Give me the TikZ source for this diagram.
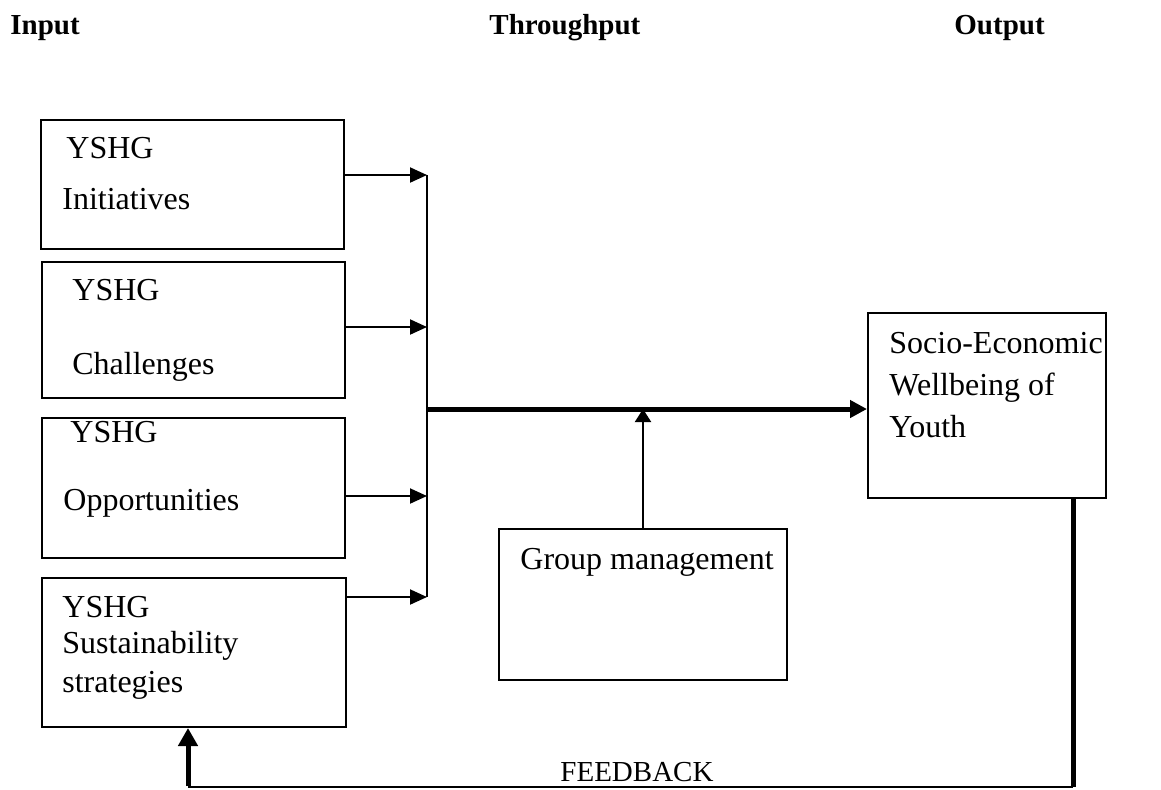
\documentclass[tikz,border=0pt]{standalone}
\usepackage{fontspec}
\setmainfont{Liberation Serif}
\usetikzlibrary{arrows.meta}
\begin{document}
\begin{tikzpicture}[x=0.5pt,y=-0.5pt,
  box/.style={draw,line width=1pt,rectangle,inner sep=0pt},
  txt/.style={anchor=base west,inner sep=0pt,font=\fontsize{16}{19}\selectfont},
  head/.style={anchor=base west,inner sep=0pt,font=\fontsize{14.5}{17}\selectfont\bfseries},
  thin/.style={line width=1pt},
  thinarrow/.style={line width=1pt,-{Triangle[length=8.5pt,width=7.5pt]}},
  thickarrow/.style={line width=2.5pt,-{Triangle[length=8.5pt,width=8.5pt]}},
  thickline/.style={line width=2.5pt}]
\useasboundingbox (0,0) rectangle (1161,789);
% headers
\node[head] (hin) at (10,34) {Input};
\node[head] (hth) at (489,34) {Throughput};
\node[head] (hout) at (954,34) {Output};
% input boxes
\node[box,minimum width=151.5pt,minimum height=64.5pt] (b1) at (192.5,184.5) {};
\node[box,minimum width=151.5pt,minimum height=68pt] (b2) at (193.5,330) {};
\node[box,minimum width=151.5pt,minimum height=70pt] (b3) at (193.5,488) {};
\node[box,minimum width=152pt,minimum height=74.5pt] (b4) at (194,652.5) {};
\node[txt] (t1a) at (66,158) {YSHG};
\node[txt] (t1b) at (62,209) {Initiatives};
\node[txt] (t2a) at (72,300) {YSHG};
\node[txt] (t2b) at (72,374) {Challenges};
\node[txt] (t3a) at (70,442) {YSHG};
\node[txt] (t3b) at (63,510) {Opportunities};
\node[txt] (t4a) at (62,617) {YSHG};
\node[txt] (t4b) at (62,653) {Sustainability};
\node[txt] (t4c) at (62,692) {strategies};
% output box
\node[box,minimum width=119pt,minimum height=92.5pt] (out) at (987,405.5) {};
\node[txt] (o1) at (889,353) {Socio-Economic};
\node[txt] (o2) at (889,395) {Wellbeing of};
\node[txt] (o3) at (889,437) {Youth};
% group management box
\node[box,minimum width=144pt,minimum height=75.5pt] (grp) at (643,604.5) {};
\node[txt] (g1) at (520,569) {Group management};
% junction coordinates
\coordinate (v1) at (427,175);
\coordinate (v2) at (427,327);
\coordinate (v3) at (427,496);
\coordinate (v4) at (427,597);
\coordinate (m0) at (427,409);
\coordinate (up) at (643,409);
\coordinate (fb1) at (1073,787);
\coordinate (fb2) at (188,787);
% arrows into collector
\draw[thinarrow] (b1.east |- v1) -- (v1);
\draw[thinarrow] (b2.east |- v2) -- (v2);
\draw[thinarrow] (b3.east |- v3) -- (v3);
\draw[thinarrow] (b4.east |- v4) -- (v4);
\draw[thin] (v1) -- (v4);
% main arrow
\draw[thickarrow] (m0) -- (out.west |- m0);
% group management arrow
\draw[line width=1pt,-{Triangle[length=6.5pt,width=8pt]}] (grp.north -| up) -- (up);
% feedback
\draw[thickline] (out.south -| fb1) -- (fb1);
\draw[thin] (fb1) -- (fb2);
\draw[line width=2.5pt,-{Triangle[length=9pt,width=9.5pt]}] ([yshift=0.5pt]fb2) -- (b4.south -| fb2);
\node[anchor=base west,inner sep=0pt,font=\fontsize{14.5}{17}\selectfont] (fbt) at (560,781) {FEEDBACK};
\end{tikzpicture}
\end{document}
